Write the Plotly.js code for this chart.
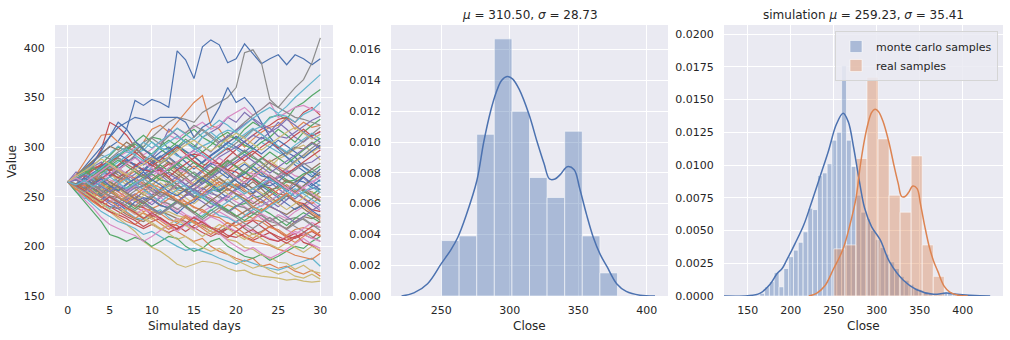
<!DOCTYPE html>
<html><head><meta charset="utf-8">
<script src="https://cdn.plot.ly/plotly-3.0.1.min.js"></script>
<style>html,body{margin:0;padding:0;background:#fff;}#chart{width:1010px;height:340px;}</style>
</head><body><div id="chart"></div>
<script>
// ---------------- data ----------------
const days = [0,1,2,3,4,5,6,7,8,9,10,11,12,13,14,15,16,17,18,19,20,21,22,23,24,25,26,27,28,29,30];

const simPaths = [
 [265,270,278,286,294,300,306,318,347,342,348,345,340,397,388,369,401,408,403,385,389,404,394,384,389,393,383,393,389,383,389],
 [265,272,285,298,312,313,305,300,296,305,318,322,315,325,335,345,352,322,318,305,310,300,308,315,320,322,330,318,325,320,322],
 [265,258,262,270,283,292,300,296,305,300,310,308,298,305,312,318,310,305,300,312,308,318,325,320,330,332,328,340,345,352,358],
 [265,262,275,283,298,325,320,312,300,290,285,278,270,262,255,262,270,275,282,290,298,305,312,318,322,328,330,325,335,340,332],
 [265,268,260,255,262,270,275,268,280,285,290,300,318,312,305,300,310,315,320,330,325,335,328,320,315,325,318,310,305,312,315],
 [265,260,255,250,245,240,238,232,228,225,230,235,232,228,225,218,222,218,215,220,225,218,212,215,220,222,218,225,230,228,232],
 [265,270,275,280,278,285,290,295,300,292,298,305,312,308,315,320,325,318,322,330,335,340,332,338,345,330,335,340,342,338,335],
 [265,268,272,265,275,285,290,300,295,305,310,318,325,330,328,325,335,340,345,350,360,395,398,385,348,340,350,360,368,385,410],
 [265,258,252,245,240,235,228,222,215,205,199,195,189,182,179,182,185,184,182,178,175,176,172,170,169,168,166,167,165,164,165],
 [265,255,248,252,258,262,270,275,268,272,280,288,295,300,305,298,310,315,308,302,298,292,298,305,300,295,290,285,280,272,265],
 [265,270,280,290,300,310,320,325,330,328,325,330,330,330,325,310,320,325,340,360,345,350,340,325,310,300,295,290,280,275,270],
 [265,260,252,248,240,235,230,225,222,228,232,226,220,215,210,205,208,200,195,192,188,185,188,180,182,178,180,175,172,176,170],
 [265,255,245,235,225,212,209,205,209,206,200,205,210,208,200,195,198,205,208,200,195,190,188,192,186,190,195,200,198,205,210],
 [265,262,258,250,245,240,235,230,226,220,225,228,222,218,222,226,220,215,212,218,225,230,235,228,222,215,210,208,212,215,210],
 [265,275,270,280,285,275,265,270,262,258,252,258,265,270,262,255,250,258,265,262,270,275,268,260,265,258,252,248,255,258,262],
 [265,270,262,255,260,265,258,252,248,255,262,268,275,270,278,285,280,275,268,262,258,265,272,278,285,290,295,300,298,305,300],
 [265,262,268,275,270,262,255,250,245,240,245,250,242,238,232,228,235,240,245,250,245,240,235,228,225,232,228,235,240,245,238],
 [265,268,262,258,262,255,250,255,260,265,258,252,248,245,252,258,265,272,265,258,252,245,238,232,225,230,225,220,215,210,205],
 [265,270,275,282,278,272,268,262,270,278,285,290,282,275,270,262,258,265,270,275,280,285,278,272,280,288,292,298,302,295,300],
 [265,258,250,242,235,230,225,222,218,212,215,210,205,200,196,198,195,192,188,185,182,186,183,180,178,176,179,182,185,188,180],
 [265,262,255,260,265,270,278,285,290,282,288,295,300,292,285,278,285,292,298,305,300,295,302,310,305,298,290,282,276,270,278],
 [265,268,275,268,262,258,252,248,240,235,238,242,248,252,245,240,235,230,236,242,238,232,228,235,242,248,252,245,238,232,228],
 [265,260,265,270,278,285,292,298,305,312,305,298,292,300,308,302,295,302,310,315,308,302,298,305,310,318,312,305,315,322,328],
 [265,258,252,246,240,235,232,228,222,218,222,218,214,218,222,219,214,210,214,218,215,210,206,210,214,210,206,210,212,208,215],
 [265,270,272,268,265,260,255,262,268,272,278,272,265,258,262,268,275,282,290,295,300,306,312,308,315,320,328,322,315,310,305],
 [265,262,258,265,272,278,272,265,258,252,248,242,238,245,252,258,252,248,242,236,230,235,240,245,240,236,232,238,242,248,255],
 [265,258,262,255,250,245,250,255,260,255,250,245,240,235,230,228,225,230,235,230,225,220,215,212,208,205,210,215,212,208,205],
 [265,270,278,285,292,288,295,300,305,298,292,285,290,298,305,310,318,312,305,310,318,325,332,338,345,340,335,330,328,325,322],
 [265,261,269,263,256,264,271,266,258,253,262,270,261,255,249,243,250,256,262,268,260,269,276,281,287,280,277,285,291,296,287],
 [265,259,253,249,243,238,244,235,229,227,233,237,229,223,221,226,231,237,231,229,224,231,237,241,246,251,247,256,261,266,261],
 [265,269,263,271,277,271,281,287,281,277,285,291,285,279,277,269,263,269,275,269,277,283,277,271,269,261,257,265,269,261,267],
 [265,261,255,249,256,261,255,249,247,239,235,233,227,225,231,225,221,219,213,209,215,209,205,203,201,197,195,191,189,187,193],
 [265,269,273,277,281,285,291,297,303,297,293,301,307,301,295,291,283,281,275,283,289,295,289,285,277,273,267,263,255,251,245],
 [265,259,263,257,255,251,249,244,241,239,231,229,223,221,215,221,225,219,217,211,209,213,217,211,207,205,209,213,204,201,195],
 [265,271,265,263,269,275,269,267,273,279,275,283,289,283,291,297,301,295,305,311,317,323,329,323,319,311,309,315,321,327,331],
 [265,257,255,249,247,253,259,253,251,245,251,257,263,257,255,249,257,263,269,263,261,255,253,259,265,271,265,263,257,255,249],
 [265,261,267,271,275,267,263,257,263,267,271,277,283,277,275,269,277,283,289,283,281,275,273,267,265,271,277,271,269,263,271],
 [265,259,257,263,257,255,249,247,241,247,251,245,243,237,243,247,251,255,249,247,241,239,233,231,225,223,227,229,227,221,219],
 [265,269,261,257,251,249,243,241,235,233,227,233,235,231,229,223,221,215,213,207,205,199,197,191,189,184,183,177,181,175,173],
 [265,271,277,281,289,293,301,295,293,297,305,299,297,291,289,293,301,305,313,317,315,309,317,321,329,333,331,325,333,337,345],
 [265,261,259,253,251,245,243,237,245,249,247,241,239,233,241,245,253,257,255,249,257,261,269,263,261,265,273,267,265,259,257],
 [265,269,271,267,275,279,277,271,269,263,261,255,253,247,245,239,237,231,229,223,221,225,227,225,219,217,211,217,219,217,211],
 [265,259,265,267,265,259,257,259,265,267,273,267,265,259,257,251,249,243,241,235,241,243,249,251,257,259,265,267,273,275,281],
 [265,271,273,279,281,287,289,285,283,277,275,277,283,285,291,293,291,285,283,277,275,269,267,261,259,253,251,245,243,237,235],
 [265,261,259,261,267,261,259,253,259,261,259,253,251,245,251,253,259,253,251,245,251,253,259,261,267,269,275,277,283,285,291],
 [265,272,279,286,293,301,297,305,299,291,287,279,285,277,269,262,268,275,281,274,266,259,265,258,250,244,251,245,238,232,226],
 [265,258,247,239,229,222,218,214,211,205,210,216,221,215,222,230,226,219,213,206,200,195,199,193,188,192,197,203,208,202,198],
 [265,267,274,280,276,283,289,284,292,301,309,303,311,319,314,322,317,310,303,297,304,311,318,313,306,300,293,299,306,313,320],
 [265,263,257,252,246,250,244,239,235,229,224,218,213,207,210,204,199,195,198,192,186,182,178,181,176,172,175,170,168,172,167],
 [265,262,258,264,271,279,285,291,298,305,299,306,312,319,313,307,314,320,327,322,315,322,329,335,340,334,341,350,358,366,373],
 [265,268,276,284,296,310,325,318,306,298,291,284,290,283,276,270,277,284,279,272,266,260,254,261,255,249,243,237,242,236,230],
 [265,259,266,272,264,257,263,270,276,269,262,255,261,268,274,281,275,268,262,256,263,257,250,244,251,257,262,256,249,243,250],
 [265,270,264,258,251,257,250,244,238,245,239,233,240,246,241,235,229,236,242,237,231,226,232,238,233,227,221,228,234,229,224],
 [265,262,270,277,283,276,282,289,295,288,281,287,294,300,293,286,280,287,293,299,292,286,293,300,306,299,305,312,318,311,316],
 [265,258,253,259,252,246,241,247,253,248,242,249,255,262,256,250,245,239,246,252,258,264,258,252,246,240,247,254,248,242,236],
 [265,271,276,270,264,270,277,283,278,272,266,272,279,273,267,261,268,274,280,287,281,275,269,276,270,263,257,264,271,278,284],
 [265,260,254,261,255,249,244,238,232,238,233,227,222,228,223,217,224,230,226,220,215,221,227,233,228,222,217,212,218,224,219],
 [265,268,262,268,275,281,275,269,263,270,276,283,289,282,276,270,265,271,277,284,290,297,291,284,278,272,279,286,292,299,305],
 [265,263,257,251,257,263,258,252,246,251,257,264,258,252,258,265,271,265,259,253,247,253,259,254,248,243,237,243,249,255,249],
 [265,269,274,268,261,255,262,268,263,257,251,245,251,257,262,256,250,244,239,245,251,246,240,234,240,246,252,258,253,247,242],
 [265,261,267,274,280,286,293,288,282,276,283,290,296,302,296,290,284,291,297,304,311,305,299,293,300,307,301,295,289,296,302],
 [265,258,251,245,239,246,240,234,228,234,229,223,217,223,229,224,218,212,218,224,219,213,208,214,220,215,209,204,210,216,211],
 [265,270,277,271,278,285,279,273,266,260,266,272,278,285,279,273,267,261,255,261,268,275,269,263,257,251,258,264,258,252,258],
 [265,262,256,262,268,274,269,275,281,287,282,276,270,277,283,289,295,289,283,277,284,290,296,290,284,279,273,279,285,291,297],
 [265,267,261,255,249,243,238,243,249,244,238,233,239,245,251,257,252,246,240,234,240,246,252,247,241,236,230,224,230,236,242],
 [265,260,265,259,253,259,266,273,267,261,268,274,268,262,256,262,269,276,282,276,270,264,258,265,272,266,260,254,261,268,275],
 [265,272,266,260,267,273,279,273,267,261,255,249,256,262,268,262,256,250,244,250,256,251,245,240,246,252,258,264,259,253,247],
 [265,263,269,262,256,250,244,250,256,262,256,250,256,263,269,275,269,263,257,263,270,277,283,289,283,277,271,277,284,278,272],
 [265,259,254,248,243,237,232,238,233,228,222,217,222,227,221,216,210,216,222,218,212,207,213,208,202,198,204,199,194,200,196],
 [265,270,266,273,279,286,292,298,292,286,293,299,305,311,305,299,293,287,294,300,307,313,319,313,307,301,295,302,308,314,308],
 [265,262,269,263,268,261,256,263,268,275,267,262,255,251,257,262,269,263,256,261,268,273,281,274,267,263,255,261,270,263,257],
 [265,257,262,254,249,256,250,245,252,258,263,259,252,247,242,248,253,260,265,258,253,248,240,236,242,247,254,246,241,234,229],
 [265,268,273,279,274,281,287,281,275,269,275,282,276,283,290,284,278,272,279,286,280,274,281,288,295,289,283,290,297,303,309],
 [265,261,256,250,244,250,245,239,234,228,234,228,223,217,223,229,224,219,214,209,215,221,226,220,214,208,203,209,214,220,225],
 [265,267,272,266,260,255,261,256,262,268,274,279,273,268,262,257,263,269,275,281,286,292,286,280,274,280,286,292,298,304,298],
 [265,263,258,264,270,265,260,254,248,243,249,255,251,245,240,234,240,246,252,258,253,248,243,249,255,261,267,262,256,251,246],
 [265,269,264,270,276,282,277,283,289,284,279,273,279,285,291,296,291,285,280,275,269,264,270,276,271,265,259,253,259,265,270],
 [265,260,255,261,256,251,246,241,236,242,237,232,238,244,239,233,227,233,239,234,229,223,218,224,229,223,217,223,228,222,216],
 [265,271,276,282,288,283,277,272,278,283,289,284,290,296,302,307,301,296,302,308,314,309,303,297,303,309,315,320,314,308,313],
 [265,262,266,260,265,270,264,258,263,268,262,256,261,266,260,254,249,255,260,265,259,253,258,263,268,262,256,250,255,260,254]
];

// real samples histogram (density) - 10 bins
const realBinStart = 250.2;
const realBinWidth = 12.84;
const realDensity = [0.0036,0.0039,0.0105,0.0167,0.0120,0.0077,0.0064,0.0107,0.0039,0.0015];

// monte carlo samples histogram (density) - 42 bins
const mcBinStart = 164.0;
const mcBinWidth = 5.6;
const mcDensity = [0.0002,0.0007,0.0011,0.0018,0.0007,0.0021,0.0030,0.0035,0.0041,0.0049,
                   0.0067,0.0066,0.0092,0.0094,0.0101,0.0119,0.0125,0.0176,0.0119,0.0099,
                   0.0077,0.0064,0.0059,0.0050,0.0043,0.0037,0.0032,0.0026,0.0021,0.0015,
                   0.0012,0.0009,0.0006,0.0005,0.0003,0.0002,0.0001,0.0001,0.0003,0.0003,
                   0.0001,0.0001];

// KDE curves
const realKdeX = [221,230,240,250,257,262,268,276,281,286,290,294,298,302,307,314,320,325,329,333,337,342,347,351,356,361,366,371,378,385,395,406];
const realKdeY = [0,0.0002,0.0008,0.0021,0.0030,0.0038,0.0052,0.0075,0.0100,0.0120,0.0132,0.0140,0.01426,0.0141,0.0134,0.0118,0.0100,0.0086,0.0076,0.0076,0.0079,0.0084,0.0082,0.0070,0.0053,0.0038,0.0027,0.0019,0.0008,0.0003,0.00005,0];
const mcKdeX = [122,150,164,176,184,190,195,205,215,224,234,244,253,261,267,273,279,286,294,304,315,331,346,366,381,393,408,420,432];
const mcKdeY = [0,0.00002,0.0002,0.0009,0.0017,0.0021,0.0027,0.0040,0.0054,0.0071,0.0091,0.0111,0.0131,0.01395,0.0133,0.0114,0.0091,0.0067,0.0053,0.0043,0.0026,0.0012,0.0005,0.00013,0.00023,0.00013,0.00005,0.00001,0];

const leftTitleY = 'Value', leftTitleX = 'Simulated days', closeTitle = 'Close';
const midTitle = '<i>μ</i> = 310.50, <i>σ</i> = 28.73';
const rightTitle = 'simulation <i>μ</i> = 259.23, <i>σ</i> = 35.41';

// ---------------- styling ----------------
const palette = ['#4C72B0','#DD8452','#55A868','#C44E52','#8172B3','#937860','#DA8BC3','#8C8C8C','#CCB974','#64B5CD'];
const W = 1010, H = 340;
const FONT = 'DejaVu Sans, Liberation Sans, sans-serif';
const TXT = '#262626';
const px = v => v / W;
const py = v => 1 - v / H;

const yDom = [py(296), py(25)];
const dom1 = [px(55), px(333)];
const dom2 = [px(391), px(668)];
const dom3 = [px(724), px(1003)];

function axis(domain, range, tick0, dtick, fmt, anchor, tlen) {
  return {
    domain, range, tick0, dtick, tickformat: fmt, anchor,
    showgrid: true, gridcolor: '#ffffff', gridwidth: 1,
    zeroline: false, showline: false,
    ticks: 'outside', ticklen: tlen, tickcolor: 'rgba(0,0,0,0)',
    tickfont: {family: FONT, size: 11, color: TXT},
    fixedrange: true
  };
}

const traces = [];
simPaths.forEach((p, i) => {
  traces.push({
    type: 'scatter', mode: 'lines', x: days, y: p,
    xaxis: 'x', yaxis: 'y', showlegend: false, hoverinfo: 'skip',
    line: {color: palette[i % palette.length], width: 1.2}
  });
});

function binCenters(start, width, n) { const c = []; for (let i = 0; i < n; i++) c.push(start + width * (i + 0.5)); return c; }

const realX = binCenters(realBinStart, realBinWidth, realDensity.length);
const mcX = binCenters(mcBinStart, mcBinWidth, mcDensity.length);

const blueFill = 'rgba(76,114,176,0.4)';
const orangeFill = 'rgba(221,132,82,0.4)';
const edge = {color: 'rgba(255,255,255,0.55)', width: 1};

// middle panel
traces.push({type: 'bar', x: realX, y: realDensity, width: realBinWidth, xaxis: 'x2', yaxis: 'y2',
  marker: {color: blueFill, line: edge}, showlegend: false, hoverinfo: 'skip'});
traces.push({type: 'scatter', mode: 'lines', x: realKdeX, y: realKdeY, xaxis: 'x2', yaxis: 'y2',
  line: {color: '#4C72B0', width: 1.5, shape: 'spline', smoothing: 1}, showlegend: false, hoverinfo: 'skip'});

// right panel
traces.push({type: 'bar', x: mcX, y: mcDensity, width: mcBinWidth, xaxis: 'x3', yaxis: 'y3', name: 'monte carlo samples',
  marker: {color: blueFill, line: edge}, showlegend: true, hoverinfo: 'skip'});
traces.push({type: 'scatter', mode: 'lines', x: mcKdeX, y: mcKdeY, xaxis: 'x3', yaxis: 'y3',
  line: {color: '#4C72B0', width: 1.5, shape: 'spline', smoothing: 1}, showlegend: false, hoverinfo: 'skip'});
traces.push({type: 'bar', x: realX, y: realDensity, width: realBinWidth, xaxis: 'x3', yaxis: 'y3', name: 'real samples',
  marker: {color: orangeFill, line: edge}, showlegend: true, hoverinfo: 'skip'});
traces.push({type: 'scatter', mode: 'lines', x: realKdeX, y: realKdeY, xaxis: 'x3', yaxis: 'y3',
  line: {color: '#DD8452', width: 1.5, shape: 'spline', smoothing: 1}, showlegend: false, hoverinfo: 'skip'});

const annFont = {family: FONT, size: 12, color: TXT};
function ann(text, x, y, extra) {
  return Object.assign({text, x, y, xref: 'paper', yref: 'paper', showarrow: false,
    xanchor: 'center', yanchor: 'middle', font: annFont}, extra || {});
}

const layout = {
  width: W, height: H,
  margin: {l: 0, r: 0, t: 0, b: 0, pad: 0},
  paper_bgcolor: '#ffffff', plot_bgcolor: '#EAEAF2',
  barmode: 'overlay', bargap: 0, hovermode: false,
  font: {family: FONT, size: 11, color: TXT},
  xaxis: axis(dom1, [-1.5, 31.5], 0, 5, 'd', 'y', 4),
  yaxis: axis(yDom, [150, 423], 150, 50, 'd', 'x', 7),
  xaxis2: axis(dom2, [213.3, 415.5], 250, 50, 'd', 'y2', 4),
  yaxis2: axis(yDom, [0, 0.0176], 0, 0.002, '.3f', 'x2', 7),
  xaxis3: axis(dom3, [122.4, 446.9], 150, 50, 'd', 'y3', 4),
  yaxis3: axis(yDom, [0, 0.0207], 0, 0.0025, '.4f', 'x3', 7),
  showlegend: true,
  legend: {
    x: px(998), y: py(31), xanchor: 'right', yanchor: 'top',
    bgcolor: 'rgba(234,234,242,0.85)', bordercolor: '#D5D5D5', borderwidth: 1,
    font: {family: FONT, size: 11, color: TXT}, tracegroupgap: 0, itemwidth: 30
  },
  annotations: [
    ann(midTitle, (dom2[0] + dom2[1]) / 2, py(15)),
    ann(rightTitle, (dom3[0] + dom3[1]) / 2, py(15)),
    ann(leftTitleX, (dom1[0] + dom1[1]) / 2, py(326)),
    ann(closeTitle, (dom2[0] + dom2[1]) / 2, py(326)),
    ann(closeTitle, (dom3[0] + dom3[1]) / 2, py(326)),
    ann(leftTitleY, px(12), py(162), {textangle: -90})
  ]
};

Plotly.newPlot('chart', traces, layout, {staticPlot: true, displayModeBar: false});
</script>
</body></html>
